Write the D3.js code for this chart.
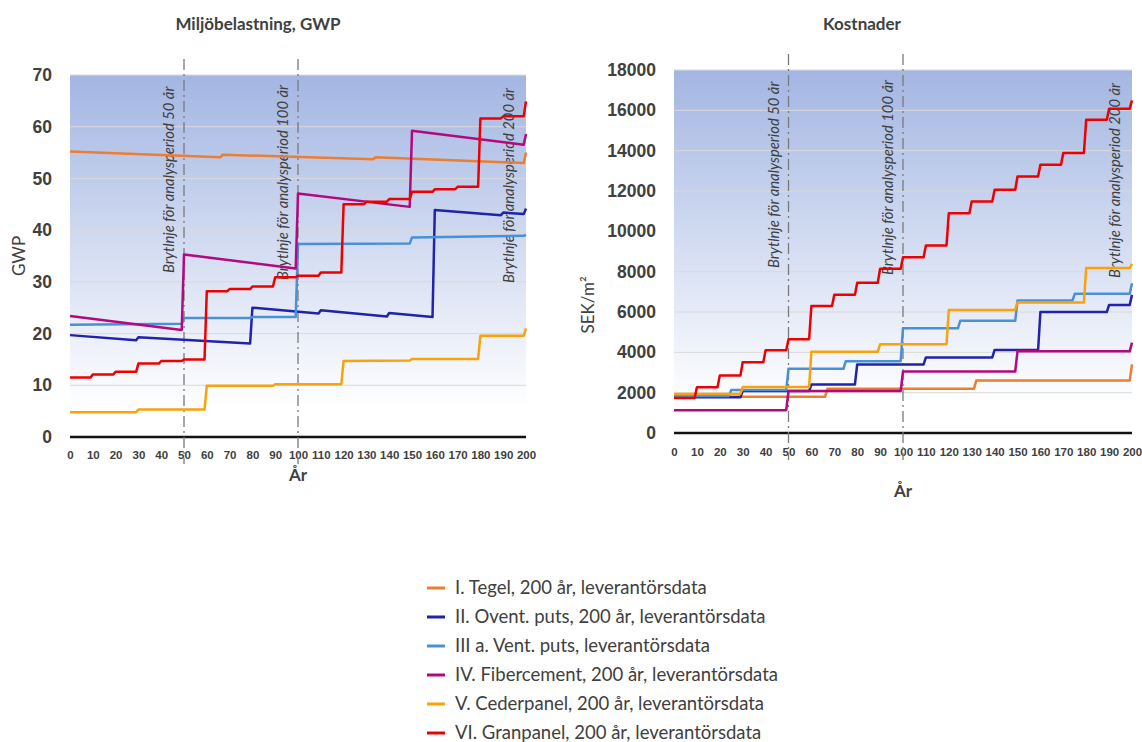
<!DOCTYPE html>
<html>
<head>
<meta charset="utf-8">
<script src="https://cdn.jsdelivr.net/npm/d3@7/dist/d3.min.js"></script>
<style>
  body { margin: 0; background: #fff; }
  svg { display: block; font-family: Lato, "Open Sans", sans-serif; }
</style>
</head>
<body>
<svg id="chart" width="1142" height="742"></svg>
<script>
// ---- data ----
const seriesNames = [
  "I. Tegel, 200 år, leverantörsdata",
  "II. Ovent. puts, 200 år, leverantörsdata",
  "III a. Vent. puts, leverantörsdata",
  "IV. Fibercement, 200 år, leverantörsdata",
  "V. Cederpanel, 200 år, leverantörsdata",
  "VI. Granpanel, 200 år, leverantörsdata"
];
const seriesColors = ["#ed7d31", "#2222aa", "#4a90d6", "#b4097e", "#f9a20b", "#ee0000"];

const xTickLabels = [0, 10, 20, 30, 40, 50, 60, 70, 80, 90, 100, 110, 120, 130, 140, 150, 160, 170, 180, 190, 200];
const gwpTicks = [0, 10, 20, 30, 40, 50, 60, 70];
const costTicks = [0, 2000, 4000, 6000, 8000, 10000, 12000, 14000, 16000, 18000];

const breakYears = [50, 100, 200];
const breakLabels = [
  "Brytlnje för analysperiod 50 år",
  "Brytlnje för analysperiod 100 år",
  "Brytlnje för analysperiod 200 år"
];

// GWP, [år, värde] brytpunkter (linjärt mellan punkterna)
const gwpTegel = [[0, 55.2], [66, 54.1], [67, 54.6], [133, 53.7], [134, 54.1], [199, 53.0], [200, 55.0]];
const gwpOvent = [[0, 19.7], [29, 18.7], [30, 19.3], [79, 18.1], [80, 25.0], [109, 23.9], [110, 24.5],
  [139, 23.3], [140, 24.0], [159, 23.2], [160, 43.9], [189, 42.9], [190, 43.4], [199, 43.1], [200, 44.2]];
const gwpVent = [[0, 21.7], [49, 21.9], [50, 23.0], [79, 23.0], [80, 23.2], [99, 23.2], [100, 37.3],
  [149, 37.4], [150, 38.6], [199, 38.9], [200, 39.1]];
const gwpFiber = [[0, 23.4], [49, 20.7], [50, 35.3], [99, 32.6], [100, 47.1], [149, 44.5], [150, 59.2],
  [199, 56.5], [200, 58.6]];
const gwpCeder = [[0, 4.8], [29, 4.8], [30, 5.3], [59, 5.3], [60, 9.9], [89, 9.9], [90, 10.2], [119, 10.2],
  [120, 14.7], [149, 14.8], [150, 15.1], [179, 15.1], [180, 19.6], [199, 19.6], [200, 21.0]];
const gwpGran = [[0, 11.5], [9, 11.5], [10, 12.1], [19, 12.1], [20, 12.6], [29, 12.6], [30, 14.2], [39, 14.2],
  [40, 14.7], [49, 14.7], [50, 15.0], [59, 15.0], [60, 28.2], [69, 28.2], [70, 28.6], [79, 28.6], [80, 29.1],
  [89, 29.1], [90, 30.9], [99, 30.9], [100, 31.2], [109, 31.2], [110, 31.8], [119, 31.8], [120, 45.0],
  [129, 45.0], [130, 45.5], [139, 45.5], [140, 46.0], [149, 46.0], [150, 47.4], [159, 47.4], [160, 47.9],
  [169, 47.9], [170, 48.4], [179, 48.4], [180, 61.6], [189, 61.6], [190, 62.0], [199, 62.0], [200, 64.9]];

// Kostnader SEK/m2, [år, nytt värde] trappsteg
const costTegel = [[0, 1800], [67, 2200], [132, 2600], [200, 3400]];
const costOvent = [[0, 1770], [30, 2080], [60, 2400], [80, 3400], [110, 3750], [140, 4120], [160, 6000],
  [190, 6350], [200, 6850]];
const costVent = [[0, 1840], [25, 2130], [50, 3180], [75, 3560], [100, 5200], [125, 5560], [150, 6570],
  [175, 6900], [200, 7430]];
const costFiber = [[0, 1130], [50, 2080], [100, 3050], [150, 4050], [200, 4480]];
const costCeder = [[0, 1940], [30, 2280], [60, 4030], [90, 4400], [120, 6100], [150, 6470], [180, 8180],
  [200, 8390]];
const costGran = [[0, 1730], [10, 2270], [20, 2850], [30, 3510], [40, 4100], [50, 4650], [60, 6300],
  [70, 6850], [80, 7450], [90, 8150], [100, 8720], [110, 9300], [120, 10900], [130, 11480], [140, 12060],
  [150, 12720], [160, 13300], [170, 13880], [180, 15530], [190, 16080], [200, 16490]];

// ---- helpers ----
function toSteps(pts) {
  const out = [pts[0]];
  for (let i = 1; i < pts.length; i++) {
    out.push([pts[i][0] - 1, pts[i - 1][1]]);
    out.push(pts[i]);
  }
  return out;
}

const svg = d3.select("#chart");
const textColor = "#404040";

const defs = svg.append("defs");
const grad = defs.append("linearGradient")
  .attr("id", "plotBg").attr("x1", 0).attr("y1", 0).attr("x2", 0).attr("y2", 1);
grad.append("stop").attr("offset", "0%").attr("stop-color", "#a3b6e2");
grad.append("stop").attr("offset", "92%").attr("stop-color", "#ffffff");

function drawPanel(p) {
  const x = d3.scaleLinear().domain([0, 200]).range([p.x0, p.x1]);
  const y = d3.scaleLinear().domain(p.yDomain).range([p.y1, p.y0]);
  const g = svg.append("g");

  g.append("rect")
    .attr("x", p.x0).attr("y", p.y0)
    .attr("width", p.x1 - p.x0).attr("height", p.y1 - p.y0)
    .attr("fill", "url(#plotBg)");

  // gridlines
  g.selectAll("line.grid").data(p.yTicks.slice(1)).enter().append("line")
    .attr("class", "grid")
    .attr("x1", p.x0).attr("x2", p.x1)
    .attr("y1", d => y(d)).attr("y2", d => y(d))
    .attr("stroke", "#d9d9d9").attr("stroke-width", 1);

  // y axis labels
  const yAxis = g.append("g")
    .attr("transform", `translate(${p.x0},0)`)
    .call(d3.axisLeft(y).tickValues(p.yTicks).tickSize(0).tickPadding(18).tickFormat(d3.format("d")));
  yAxis.select(".domain").remove();
  yAxis.selectAll("text")
    .attr("fill", textColor).style("font-size", "17.5px").style("font-weight", "bold");

  // x axis
  const xAxis = g.append("g")
    .attr("transform", `translate(0,${p.y1})`)
    .call(d3.axisBottom(x).tickValues(xTickLabels).tickSize(0).tickPadding(p.xPad));
  xAxis.select(".domain").remove();
  xAxis.selectAll("text")
    .attr("fill", textColor).style("font-size", "11.5px").style("font-weight", "900");

  g.append("line")
    .attr("x1", p.x0).attr("x2", p.x1)
    .attr("y1", y(0)).attr("y2", y(0))
    .attr("stroke", "#111").attr("stroke-width", 2.5);

  // break lines (not at 200)
  g.selectAll("line.brk").data(breakYears.filter(d => d < 200)).enter().append("line")
    .attr("class", "brk")
    .attr("x1", d => x(d)).attr("x2", d => x(d))
    .attr("y1", p.y0 - 16).attr("y2", p.y1 + 27)
    .attr("stroke", "#7a7a7a").attr("stroke-width", 1.3)
    .attr("stroke-dasharray", "11,4,2,4");

  const labelOffsets = [[-10, 198], [-10, 205], [-12, 208]];
  g.selectAll("text.brk").data(breakYears).enter().append("text")
    .attr("class", "brk")
    .attr("transform", (d, i) =>
      `translate(${x(d) + labelOffsets[i][0]},${p.y0 + labelOffsets[i][1]}) rotate(-90)`)
    .attr("fill", textColor)
    .style("font-size", "14.8px").style("font-style", "italic")
    .text((d, i) => breakLabels[i]);

  // series
  const line = d3.line().x(d => x(d[0])).y(d => y(d[1]));
  g.selectAll("path.series").data(p.series).enter().append("path")
    .attr("class", "series")
    .attr("d", d => line(p.step ? toSteps(d) : d))
    .attr("fill", "none")
    .attr("stroke", (d, i) => seriesColors[i])
    .attr("stroke-width", 2.5)
    .attr("stroke-linejoin", "round");

  // titles
  g.append("text")
    .attr("x", (p.x0 + p.x1) / 2 + p.titleDx).attr("y", 30)
    .attr("text-anchor", "middle").attr("fill", textColor)
    .style("font-size", "17px").style("font-weight", "bold")
    .text(p.title);

  g.append("text")
    .attr("x", (p.x0 + p.x1) / 2).attr("y", p.xLabelY)
    .attr("text-anchor", "middle").attr("fill", textColor)
    .style("font-size", "17px").style("font-weight", "bold")
    .text("År");

  g.append("text")
    .attr("transform", `translate(${p.yLabelX},${p.yLabelY}) rotate(-90)`)
    .attr("text-anchor", "middle").attr("fill", textColor)
    .style("font-size", "17px")
    .text(p.yLabel);
}

drawPanel({
  x0: 70, x1: 526, y0: 75, y1: 437, xPad: 14,
  yDomain: [0, 70], yTicks: gwpTicks,
  title: "Miljöbelastning, GWP", titleDx: -40,
  yLabel: "GWP", yLabelX: 25, yLabelY: 256, xLabelY: 481,
  series: [gwpTegel, gwpOvent, gwpVent, gwpFiber, gwpCeder, gwpGran], step: false
});

drawPanel({
  x0: 674, x1: 1132, y0: 70, y1: 433, xPad: 15,
  yDomain: [0, 18000], yTicks: costTicks,
  title: "Kostnader", titleDx: -41,
  yLabel: "SEK/m²", yLabelX: 594, yLabelY: 305, xLabelY: 497,
  series: [costTegel, costOvent, costVent, costFiber, costCeder, costGran], step: true
});

// legend
const legend = svg.append("g").attr("transform", "translate(427,588)");
const rows = legend.selectAll("g").data(seriesNames).enter().append("g")
  .attr("transform", (d, i) => `translate(0,${i * 29})`);
rows.append("line")
  .attr("x1", 0).attr("x2", 18).attr("y1", 0).attr("y2", 0)
  .attr("stroke", (d, i) => seriesColors[i]).attr("stroke-width", 3);
rows.append("text")
  .attr("x", 28).attr("dy", "0.35em")
  .attr("fill", textColor).style("font-size", "18.5px")
  .text(d => d);
</script>
</body>
</html>
